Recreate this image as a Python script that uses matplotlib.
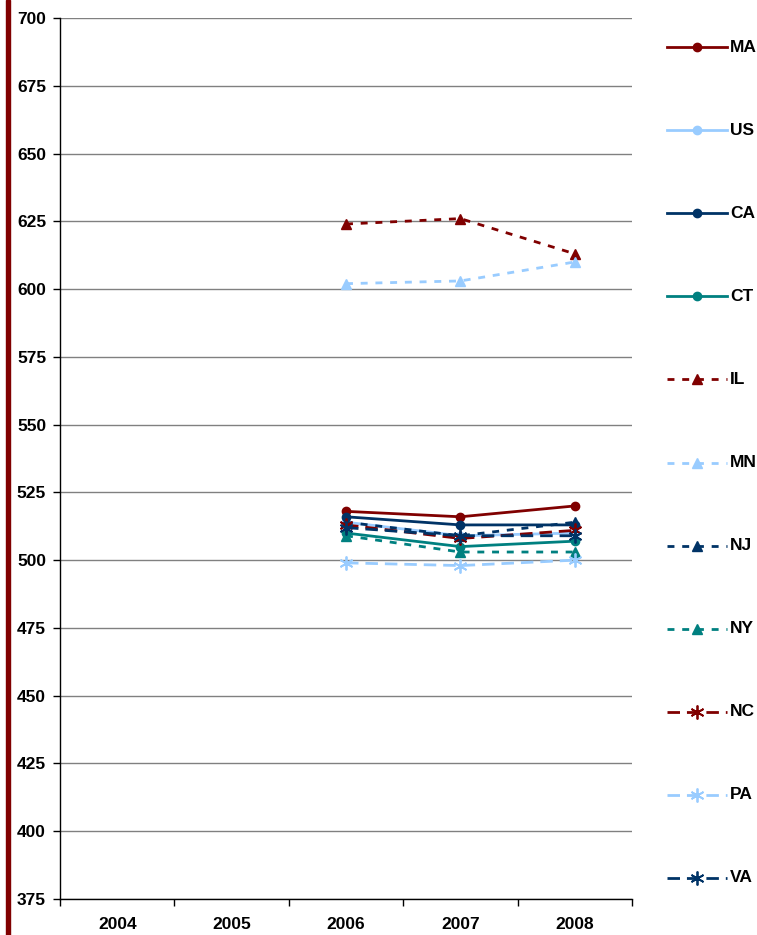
import matplotlib
matplotlib.use('Agg')
import matplotlib.pyplot as plt
from matplotlib.lines import Line2D
from matplotlib.patches import Rectangle

plt.rcParams['font.family'] = ['Liberation Sans', 'DejaVu Sans']

# data
years = ['2004', '2005', '2006', '2007', '2008']
data_years = [2, 3, 4]  # index of 2006..2008

series_names = ['MA', 'US', 'CA', 'CT', 'IL', 'MN', 'NJ', 'NY', 'NC', 'PA', 'VA']
ma = [518, 516, 520]
us = [514, 509, 510]
ca = [516, 513, 513]
ct = [510, 505, 507]
il = [624, 626, 613]
mn = [602, 603, 610]
nj = [514, 509, 514]
ny = [509, 503, 503]
nc = [513, 508, 511]
pa = [499, 498, 500]
va = [512, 509, 509]
values = [ma, us, ca, ct, il, mn, nj, ny, nc, pa, va]

y_ticks = list(range(375, 701, 25))

# styles
RED, LBLUE, NAVY, TEAL = '#800000', '#99CCFF', '#003366', '#008080'
colors = [RED, LBLUE, NAVY, TEAL, RED, LBLUE, NAVY, TEAL, RED, LBLUE, NAVY]
star = (6, 2, 0)
styles = ([dict(ls='-', marker='o', ms=6, mew=1)] * 4 +
          [dict(ls=(0, (2.5, 2.8)), marker='^', ms=7, mew=1)] * 4 +
          [dict(ls=(0, (4.5, 2.5)), marker=star, ms=10, mew=1.3)] * 3)
LW = 2.0
FS = 12.5

W, H = 757, 935
fig = plt.figure(figsize=(W / 100, H / 100), dpi=100)
ax = fig.add_axes([60 / W, 1 - 899 / H, (632 - 60) / W, (899 - 18) / H])

for name, vals, c, st in zip(series_names, values, colors, styles):
    ax.plot(data_years, vals, color=c, lw=LW, mfc=c, mec=c, label=name, **st)

ax.set_ylim(375, 700)
ax.set_yticks(y_ticks)
ax.set_yticklabels([str(v) for v in y_ticks], fontsize=FS, fontweight='bold')
ax.yaxis.grid(True, color='#808080', lw=1)
ax.set_axisbelow(True)

ax.set_xlim(-0.5, 4.5)
ax.set_xticks([i - 0.5 for i in range(6)])
ax.set_xticklabels([])
ax.set_xticks(range(5), minor=True)
ax.set_xticklabels(years, minor=True, fontsize=FS, fontweight='bold')
ax.tick_params(axis='x', which='minor', length=0, pad=13)
ax.tick_params(axis='both', which='major', direction='out', length=5, width=1)
ax.tick_params(axis='y', pad=5)

for s in ['top', 'right']:
    ax.spines[s].set_visible(False)
for s in ['left', 'bottom']:
    ax.spines[s].set_color('black')
    ax.spines[s].set_linewidth(1)

# manual legend on the right
x0, x1 = 667 / W, 727 / W
for i, (name, c, st) in enumerate(zip(series_names, colors, styles)):
    yy = 1 - (47 + i * 83.1) / H
    ln = Line2D([x0, (x0 + x1) / 2, x1], [yy, yy, yy], color=c, lw=LW,
                mfc=c, mec=c, markevery=[1], transform=fig.transFigure, **st)
    fig.add_artist(ln)
    fig.text(730 / W, yy, name, fontsize=FS, fontweight='bold', va='center', ha='left')

# dark red bar at the left edge
fig.add_artist(Rectangle((6 / W, 0), 4 / W, 1, color=RED, transform=fig.transFigure))

fig.savefig('out.png', dpi=100)
